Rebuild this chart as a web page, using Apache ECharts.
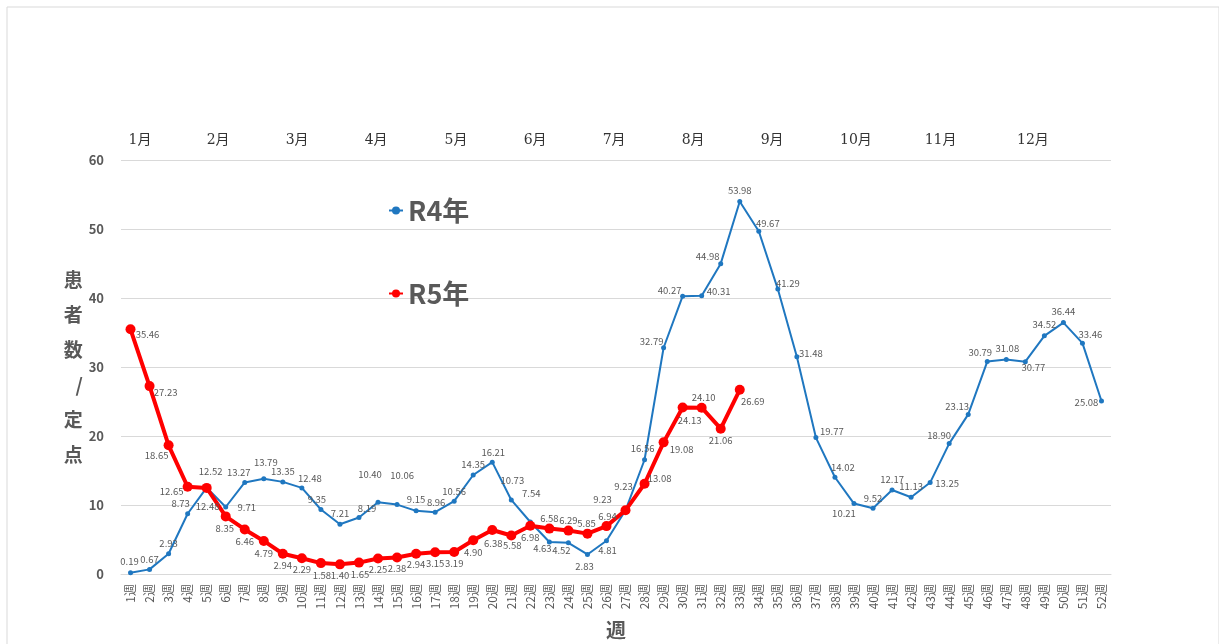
<!DOCTYPE html>
<html>
<head>
<meta charset="utf-8">
<script src="https://cdn.jsdelivr.net/npm/echarts@6/dist/echarts.min.js"></script>
<style>
  html, body { margin: 0; padding: 0; background: #fff; }
  #chart { width: 1219px; height: 644px; }
</style>
</head>
<body>
<div id="chart"></div>
<script>
// 週ラベル 1週〜52週
const weeks = []
for (let i = 1; i <= 52; i++) weeks.push(i + '週')

// R4年 定点当たり患者数
const r4Values = [
  0.19, 0.67, 2.93, 8.73, 12.52, 9.71, 13.27, 13.79, 13.35, 12.48,
  9.35, 7.21, 8.19, 10.40, 10.06, 9.15, 8.96, 10.56, 14.35, 16.21,
  10.73, 7.54, 4.63, 4.52, 2.83, 4.81, 9.23, 16.56, 32.79, 40.27,
  40.31, 44.98, 53.98, 49.67, 41.29, 31.48, 19.77, 14.02, 10.21, 9.52,
  12.17, 11.13, 13.25, 18.90, 23.13, 30.79, 31.08, 30.77, 34.52, 36.44,
  33.46, 25.08
]
// R5年 (33週まで)
const r5Values = [
  35.46, 27.23, 18.65, 12.65, 12.48, 8.35, 6.46, 4.79, 2.94, 2.29,
  1.58, 1.40, 1.65, 2.25, 2.38, 2.94, 3.15, 3.19, 4.90, 6.38,
  5.58, 6.98, 6.58, 6.29, 5.85, 6.94, 9.23, 13.08, 19.08, 24.13,
  24.10, 21.06, 26.69
]
// 月ラベルと、その位置 (週番号で)
const months = ['1月', '2月', '3月', '4月', '5月', '6月', '7月', '8月', '9月', '10月', '11月', '12月']
const monthWeek = [1.5, 5.6, 9.75, 13.9, 18.1, 22.25, 26.4, 30.55, 34.7, 39.1, 43.55, 48.4]

// データラベルのずらし量 (見た目のみ、点の中心から px)
const r4LabelOffset = [
  [-1, -11], [0, -10], [0, -10], [-7, -10], [4, -16], [21, 0], [-6, -10], [2, -16], [0, -10], [8, -9],
  [-4, -10], [0, -11], [8, -9], [-8, -28], [5, -29], [0, -11], [1, -10], [0, -10], [0, -11], [1, -10],
  [1, -20], [1, -29], [-7, 6], [-7, 8], [-3, 12], [1, 10], [-2, -24], [-2, -11], [-12, -6], [-13, -6],
  [17, -4], [-13, -7], [0, -11], [9, -8], [10, -6], [14, -3], [16, -6], [8, -10], [-10, 10], [0, -10],
  [0, -11], [0, -11], [17, 1], [-10, -8], [-11, -8], [-7, -9], [1, -11], [8, 6], [0, -11], [0, -11],
  [8, -9], [-15, 1]
]
const r5LabelOffset = [
  [17, 5], [16, 6], [-12, 10], [-16, 5], [1, 19], [-1, 12], [0, 12], [0, 12], [0, 12], [0, 11],
  [1, 12], [0, 11], [1, 12], [0, 11], [0, 11], [0, 11], [0, 11], [0, 11], [0, 12], [1, 13],
  [1, 10], [0, 12], [0, -10], [0, -10], [-1, -10], [1, -10], [-23, -11], [15, -5], [18, 7], [7, 13],
  [2, -10], [0, 12], [13, 12]
]

const labelColor = '#595959'
function withLabels (values, offsets) {
  return values.map((v, i) => ({
    value: v,
    label: { position: 'inside', offset: offsets[i] }
  }))
}

const chart = echarts.init(document.getElementById('chart'))
const fontJP = '"Noto Sans CJK JP", "Noto Sans", sans-serif'

chart.setOption({
  backgroundColor: '#fff',
  animation: false,
  textStyle: { fontFamily: fontJP },
  grid: { left: 121, right: 108, top: 160, bottom: 70, outerBoundsMode: 'none' },
  legend: {
    orient: 'vertical',
    left: 383,
    top: 192,
    itemGap: 56,
    itemWidth: 14,
    itemHeight: 10,
    textStyle: { fontSize: 27, fontWeight: 'bold', color: '#595959', fontFamily: fontJP },
    data: ['R4年', 'R5年']
  },
  xAxis: {
    type: 'category',
    data: weeks,
    boundaryGap: true,
    name: '週',
    nameLocation: 'middle',
    nameGap: 46,
    nameTextStyle: { fontSize: 20, fontWeight: 'bold', color: '#595959' },
    axisLine: { lineStyle: { color: '#d9d9d9' } },
    axisTick: { show: false },
    axisLabel: { rotate: 90, interval: 0, fontSize: 12, color: '#595959', margin: 10 }
  },
  yAxis: {
    type: 'value',
    min: 0,
    max: 60,
    interval: 10,
    name: '患\n者\n数\n/\n定\n点',
    nameLocation: 'middle',
    nameGap: 34,
    nameRotate: 0,
    nameTextStyle: { fontSize: 19, fontWeight: 'bold', color: '#595959', lineHeight: 35 },
    axisLine: { show: false },
    axisTick: { show: false },
    axisLabel: { fontSize: 13, fontWeight: 'bold', color: '#595959', margin: 17 },
    splitLine: { lineStyle: { color: '#d9d9d9', width: 1 } }
  },
  series: [
    {
      name: 'R4年',
      type: 'line',
      data: withLabels(r4Values, r4LabelOffset),
      color: '#1f77c0',
      symbol: 'circle',
      symbolSize: 5,
      lineStyle: { width: 2, color: '#1f77c0' },
      itemStyle: { color: '#1f77c0' },
      label: {
        show: true,
        fontSize: 9.5,
        color: labelColor,
        formatter: p => p.value.toFixed(2)
      },
      z: 2
    },
    {
      name: 'R5年',
      type: 'line',
      data: withLabels(r5Values, r5LabelOffset),
      color: '#ff0000',
      symbol: 'circle',
      symbolSize: 10,
      lineStyle: { width: 4, color: '#ff0000' },
      itemStyle: { color: '#ff0000' },
      label: {
        show: true,
        fontSize: 9.5,
        color: labelColor,
        formatter: p => p.value.toFixed(2)
      },
      z: 3
    }
  ]
})

// 月ラベルを上部に配置 (週の位置から補間)
const x0 = chart.convertToPixel({ xAxisIndex: 0 }, 0)
const x1 = chart.convertToPixel({ xAxisIndex: 0 }, 51)
const step = (x1 - x0) / 51
chart.setOption({
  graphic: [
    {
      type: 'rect',
      shape: { x: 7, y: 7, width: 1212, height: 640 },
      style: { fill: 'none', stroke: '#d9d9d9', lineWidth: 1 },
      silent: true
    }
  ].concat(months.map((m, i) => ({
    type: 'text',
    x: x0 + (monthWeek[i] - 1) * step,
    y: 140,
    style: {
      text: m,
      fontSize: 14,
      fill: '#333',
      align: 'center',
      verticalAlign: 'middle',
      fontFamily: '"DejaVu Serif", "Noto Sans CJK JP", serif'
    }
  })))
})
</script>
</body>
</html>
